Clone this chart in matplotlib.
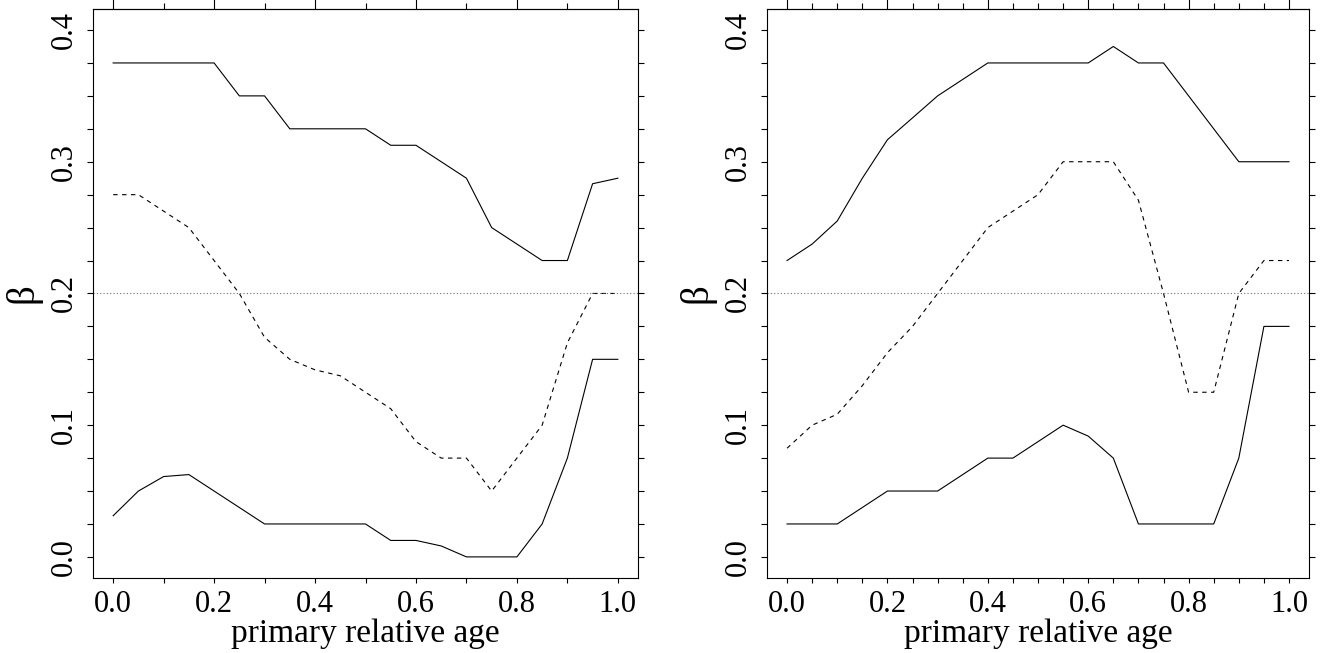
"""Two-panel beta vs primary relative age plot (R base graphics look)."""

import matplotlib
matplotlib.use("Agg")
import matplotlib.pyplot as plt
from matplotlib.ticker import MultipleLocator, NullFormatter
import numpy as np

# x grid shared by all curves
age = [0.0, 0.05, 0.1, 0.15, 0.2, 0.25, 0.3, 0.35, 0.4, 0.45, 0.5,
       0.55, 0.6, 0.65, 0.7, 0.75, 0.8, 0.85, 0.9, 0.95, 1.0]

# left panel
left_upper = [0.375, 0.375, 0.375, 0.375, 0.375, 0.35, 0.35, 0.325, 0.325, 0.325, 0.325,
              0.3125, 0.3125, 0.3, 0.2875, 0.25, 0.2375, 0.225, 0.225, 0.2833, 0.2875]
left_mid = [0.275, 0.275, 0.2625, 0.25, 0.225, 0.2, 0.1667, 0.15, 0.142, 0.1375, 0.125,
            0.1125, 0.0875, 0.075, 0.075, 0.05, 0.075, 0.1, 0.1625, 0.2, 0.2]
left_lower = [0.03125, 0.05, 0.061, 0.0625, 0.05, 0.0375, 0.025, 0.025, 0.025, 0.025, 0.025,
              0.0125, 0.0125, 0.0083, 0.0, 0.0, 0.0, 0.025, 0.075, 0.15, 0.15]

# right panel
right_upper = [0.225, 0.2375, 0.255, 0.2875, 0.3167, 0.3333, 0.35, 0.3625, 0.375, 0.375, 0.375,
               0.375, 0.375, 0.3875, 0.375, 0.375, 0.35, 0.325, 0.3, 0.3, 0.3]
right_mid = [0.0825, 0.1, 0.1083, 0.13, 0.155, 0.175, 0.2, 0.225, 0.25, 0.2625, 0.275,
             0.3, 0.3, 0.3, 0.2708, 0.2, 0.125, 0.125, 0.2, 0.225, 0.225]
right_lower = [0.025, 0.025, 0.025, 0.0375, 0.05, 0.05, 0.05, 0.0625, 0.075, 0.075, 0.0875,
               0.1, 0.0917, 0.075, 0.025, 0.025, 0.025, 0.025, 0.075, 0.175, 0.175]

ref_beta = 0.2

plt.rcParams["font.family"] = ["Liberation Serif", "DejaVu Serif"]

fig = plt.figure(figsize=(13.32, 6.53), dpi=100)
ax_l = fig.add_axes([0.0698, 0.1149, 0.4092, 0.8714])
ax_r = fig.add_axes([0.5758, 0.1149, 0.4070, 0.8714])


def style_panel(ax, upper, mid, lower, x_minor):
    ax.plot(age, upper, color="black", linewidth=0.8)
    ax.plot(age, mid, color="black", linewidth=0.8, linestyle=(0, (4, 4)))
    ax.plot(age, lower, color="black", linewidth=0.8)
    ax.axhline(ref_beta, color="#5a5aff", linewidth=0.8, linestyle=(0, (1, 2)))

    ax.set_xlim(-0.04, 1.04)
    ax.set_ylim(-0.016, 0.416)

    # bottom axis
    ax.xaxis.set_minor_locator(MultipleLocator(x_minor))
    ax.set_xticks(np.arange(0, 1.01, 0.2))
    ax.set_xticklabels(["0.0", "0.2", "0.4", "0.6", "0.8", "1.0"])
    ax.tick_params(axis="x", which="both", direction="out", length=3.5, width=0.8,
                   labelsize=22, pad=5, top=False)

    # left / right axes
    ax.yaxis.set_minor_locator(MultipleLocator(0.025))
    ax.set_yticks([0.0, 0.1, 0.2, 0.3, 0.4])
    ax.set_yticklabels(["0.0", "0.1", "0.2", "0.3", "0.4"], rotation=90, va="center")
    ax.tick_params(axis="y", which="both", direction="out", length=4, width=0.8,
                   labelsize=22, pad=6, left=True, right=True)

    # top axis
    top = ax.secondary_xaxis("top")
    top.xaxis.set_major_locator(MultipleLocator(0.2))
    top.xaxis.set_minor_locator(MultipleLocator(x_minor))
    top.xaxis.set_major_formatter(NullFormatter())
    top.tick_params(axis="x", which="major", direction="out", length=7, width=0.8)
    top.tick_params(axis="x", which="minor", direction="out", length=4, width=0.8)
    top.spines["top"].set_linewidth(0.8)

    for side in ["left", "right", "top", "bottom"]:
        ax.spines[side].set_linewidth(0.8)

    ax.set_xlabel("primary relative age", fontsize=24, labelpad=0)
    ax.set_ylabel("β", fontsize=28, labelpad=6)


style_panel(ax_l, left_upper, left_mid, left_lower, 0.1)
style_panel(ax_r, right_upper, right_mid, right_lower, 0.05)

fig.savefig("out.png", dpi=100)
plt.close(fig)
